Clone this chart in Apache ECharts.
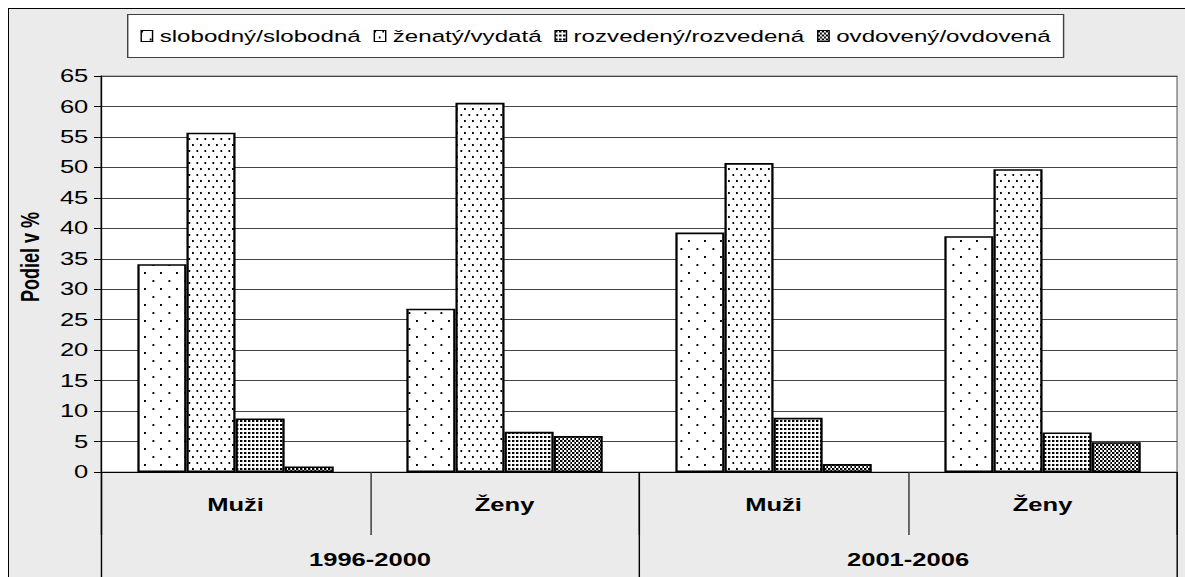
<!DOCTYPE html>
<html>
<head>
<meta charset="utf-8">
<script src="https://cdn.jsdelivr.net/npm/echarts@6/dist/echarts.min.js"></script>
<style>
  html, body { margin: 0; padding: 0; background: #fff; overflow: hidden; }
  #frame {
    position: absolute; left: 8px; top: 8px; width: 1300px; height: 700px;
    background: #ebebeb; border-left: 1px solid #000; border-top: 1px solid #000;
  }
  /* the chart is laid out narrow and widened horizontally */
  #chart {
    position: absolute; left: 0; top: 0; width: 835px; height: 577px;
    transform-origin: 0 0; transform: scaleX(1.419162);
    image-rendering: pixelated;
  }
</style>
</head>
<body>
<div id="frame"></div>
<div id="chart"></div>
<script>
const STRETCH = 1185 / 835;

// categories
const periods = ['1996-2000', '2001-2006'];
const groups = ['Muži', 'Ženy', 'Muži', 'Ženy'];

// value axis ticks
const yMin = 0, yMax = 65, yStep = 5;

// series (share in %)
const seriesNames = ['slobodný/slobodná', 'ženatý/vydatá', 'rozvedený/rozvedená', 'ovdovený/ovdovená'];
const slobodny = [34.1, 26.8, 39.3, 38.7];
const zenaty = [55.7, 60.6, 50.7, 49.7];
const rozvedeny = [8.8, 6.6, 8.9, 6.5];
const ovdoveny = [0.9, 5.9, 1.3, 4.9];

// black-on-white fill tiles, drawn in screen pixels and narrowed to layout units
function tile(w, h, cells) {
  const c = document.createElement('canvas');
  c.width = w; c.height = h;
  const g = c.getContext('2d');
  g.fillStyle = '#fff'; g.fillRect(0, 0, w, h);
  g.fillStyle = '#000';
  cells.forEach(r => g.fillRect(r[0], r[1], r[2], r[3]));
  return { image: c, repeat: 'repeat', imageWidth: w, imageHeight: h, scaleX: 1 / STRETCH, scaleY: 1 };
}
const fills = [
  tile(16, 16, [[0, 0, 2, 2], [8, 8, 2, 2]]),
  tile(8, 12, [[0, 0, 2, 2], [4, 6, 2, 2]]),
  tile(4, 4, [[0, 0, 2, 2]]),
  tile(4, 4, [[0, 0, 2, 2], [2, 2, 2, 2]])
];

const FONT = 'Liberation Sans, Arial, sans-serif';
const values = [slobodny, zenaty, rozvedeny, ovdoveny];

const chart = echarts.init(document.getElementById('chart'), null, { renderer: 'svg' });
chart.setOption({
  animation: false,
  backgroundColor: 'transparent',
  textStyle: { fontFamily: FONT },
  legend: {
    left: 90, top: 14.5,
    itemWidth: 8, itemHeight: 11, itemGap: 9,
    padding: [13, 9, 13, 9],
    backgroundColor: '#fff', borderColor: '#404040', borderWidth: 1,
    itemStyle: { borderColor: '#000', borderWidth: 1 },
    textStyle: { fontFamily: FONT, fontSize: 17, color: '#000' },
    icon: 'rect',
    selectedMode: false,
    data: seriesNames
  },
  grid: {
    left: 71.2, right: 5.6, top: 76, bottom: 105,
    show: true, backgroundColor: '#fff', borderColor: '#808080', borderWidth: 1,
    containLabel: false
  },
  xAxis: [
    {
      type: 'category', data: groups, position: 'bottom',
      axisLine: { show: true, onZero: false, lineStyle: { color: '#000', width: 1 } },
      axisTick: { show: true, interval: 0, length: 63, lineStyle: { color: '#333' } },
      axisLabel: { interval: 0, margin: 24, fontFamily: FONT, fontSize: 18, fontWeight: 'bold', color: '#000' },
      splitLine: { show: false }
    },
    {
      type: 'category', data: periods, position: 'bottom',
      axisLine: { show: false, onZero: false },
      axisTick: { show: true, interval: 0, length: 110, lineStyle: { color: '#000' } },
      axisLabel: { interval: 0, margin: 79, fontFamily: FONT, fontSize: 18, fontWeight: 'bold', color: '#000' },
      splitLine: { show: false }
    }
  ],
  yAxis: {
    type: 'value', min: yMin, max: yMax, interval: yStep,
    name: 'Podiel v %', nameLocation: 'middle', nameGap: 40.5,
    nameTextStyle: { fontFamily: FONT, fontSize: 18, fontWeight: 'bold', color: '#000', padding: [0, 0, 0, 34] },
    axisLine: { show: true, lineStyle: { color: '#000', width: 1 } },
    axisTick: { show: true, length: 5, lineStyle: { color: '#000' } },
    axisLabel: { margin: 9, fontFamily: FONT, fontSize: 18, color: '#000' },
    splitLine: { show: true, lineStyle: { color: '#444', width: 1 } }
  },
  series: seriesNames.map((name, i) => ({
    name, type: 'bar', xAxisIndex: 0,
    data: values[i],
    barGap: '0%', barCategoryGap: '27%',
    itemStyle: { color: fills[i], borderColor: '#000', borderWidth: 1.6 },
    emphasis: { disabled: true }
  }))
});
</script>
</body>
</html>
